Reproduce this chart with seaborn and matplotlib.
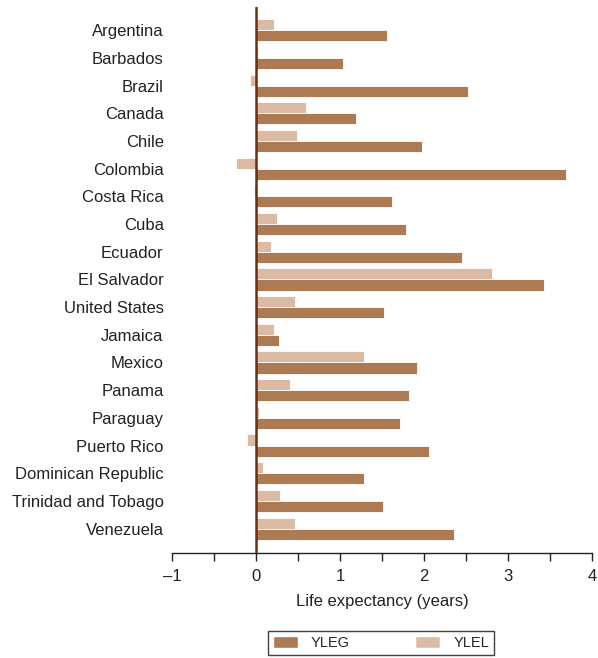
import matplotlib
matplotlib.use("Agg")
import matplotlib.pyplot as plt
from matplotlib.patches import Patch
from matplotlib.ticker import MultipleLocator, FuncFormatter
import pandas as pd
import seaborn as sns

countries = ["Argentina", "Barbados", "Brazil", "Canada", "Chile", "Colombia",
             "Costa Rica", "Cuba", "Ecuador", "El Salvador", "United States",
             "Jamaica", "Mexico", "Panama", "Paraguay", "Puerto Rico",
             "Dominican Republic", "Trinidad and Tobago", "Venezuela"]
yleg = [1.56, 1.04, 2.52, 1.19, 1.98, 3.69, 1.62, 1.78, 2.45, 3.43, 1.52,
        0.27, 1.92, 1.82, 1.71, 2.06, 1.28, 1.51, 2.36]
ylel = [0.21, 0.02, -0.07, 0.60, 0.49, -0.24, -0.02, 0.25, 0.18, 2.81, 0.47,
        0.21, 1.28, 0.41, 0.04, -0.11, 0.08, 0.28, 0.46]

series_colors = {"YLEG": "#AD7B53", "YLEL": "#DBBBA3"}

df = pd.concat([
    pd.DataFrame({"country": countries, "value": ylel, "measure": "YLEL"}),
    pd.DataFrame({"country": countries, "value": yleg, "measure": "YLEG"}),
])

sns.set_style("white")
plt.rcParams["font.family"] = ["Liberation Sans", "DejaVu Sans"]

fig = plt.figure(figsize=(5.98, 6.58), dpi=100)
ax = fig.add_axes([0.2876, 0.160, 0.7024, 0.829])

sns.barplot(data=df, x="value", y="country", hue="measure", orient="h",
            hue_order=["YLEL", "YLEG"], order=countries, palette=series_colors,
            saturation=1, width=0.8, edgecolor="white", linewidth=0.6,
            errorbar=None, legend=False, ax=ax)

ax.set_xlim(-1, 4)
ax.set_ylim(len(countries) - 1 + 0.87, -0.83)
ax.axvline(0, color="#6B2E0E", linewidth=1.8, zorder=5)

for s in ["top", "right", "left"]:
    ax.spines[s].set_visible(False)
ax.spines["bottom"].set_color("#222222")
ax.spines["bottom"].set_linewidth(1.0)

ax.xaxis.set_major_locator(MultipleLocator(1))
ax.xaxis.set_minor_locator(MultipleLocator(0.5))
ax.xaxis.set_major_formatter(FuncFormatter(lambda v, p: f"{v:.0f}".replace("-", "\u2013")))
ax.tick_params(axis="x", which="both", direction="out", length=6, width=1.0,
               color="#222222", bottom=True, labelsize=12, labelcolor="#222222", pad=6)
ax.tick_params(axis="y", length=0, labelsize=12, labelcolor="#222222", pad=6)

ax.set_ylabel("")
ax.set_xlabel("Life expectancy (years)", fontsize=12, color="#222222", labelpad=7)

handles = [Patch(facecolor=series_colors["YLEG"], label="YLEG"),
           Patch(facecolor=series_colors["YLEL"], label="YLEL")]
leg = fig.legend(handles=handles, loc="center", bbox_to_anchor=(0.637, 0.023),
                 ncol=2, frameon=True, fancybox=False, fontsize=10.5,
                 handlelength=1.7, handleheight=0.9, columnspacing=4.5,
                 borderpad=0.35, handletextpad=0.9)
leg.get_frame().set_edgecolor("#111111")
leg.get_frame().set_linewidth(1.0)

fig.savefig("out.png", dpi=100)
